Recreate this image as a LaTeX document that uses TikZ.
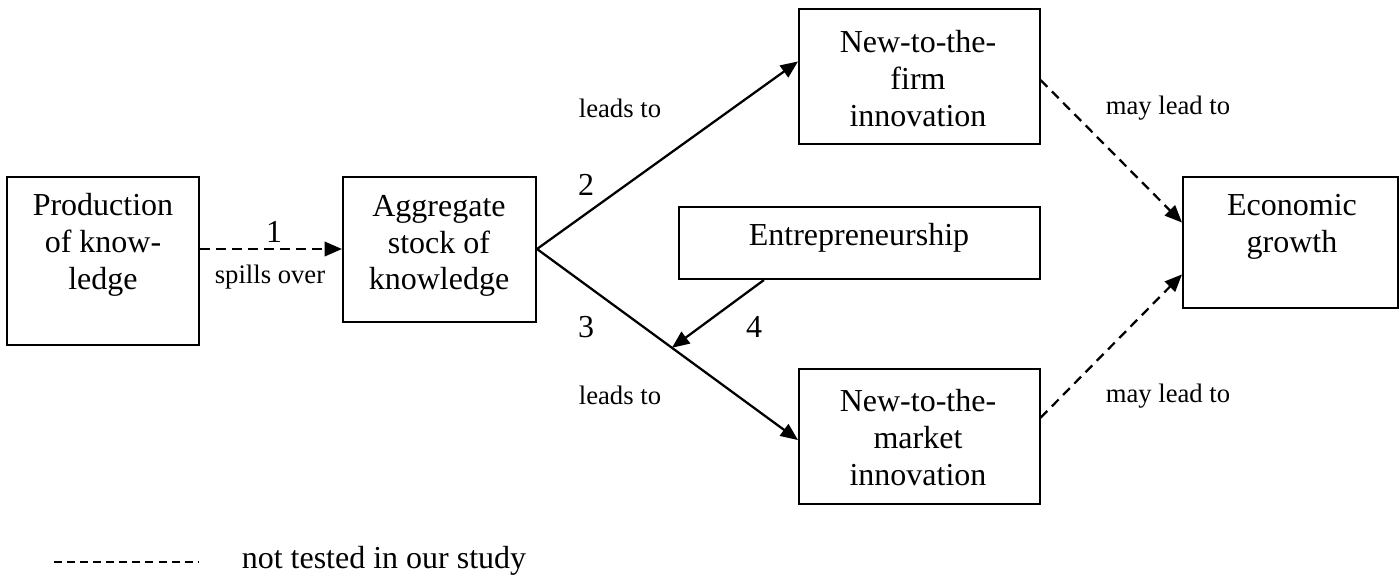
\documentclass[tikz,border=0pt]{standalone}
\usepackage{fontspec}
\setmainfont{Liberation Serif}
\usetikzlibrary{arrows.meta,calc,fit}
\begin{document}
\begin{tikzpicture}[x=0.375pt,y=-0.375pt,
  boxnode/.style={draw,line width=0.75pt,inner sep=0pt,fit={#1}},
  txt/.style={align=center,inner sep=0pt,font=\fontsize{12}{13.8}\selectfont},
  lbl/.style={inner sep=0pt,font=\fontsize{10}{12}\selectfont},
  num/.style={inner sep=0pt,font=\fontsize{12}{14}\selectfont},
  conn/.style={line width=0.85pt,-{Triangle[length=6.5pt,width=5.4pt]}},
  dconn/.style={conn,dash pattern=on 3.6pt off 2.4pt},
]
\useasboundingbox (0,0) rectangle (1399,583);
% boxes
\node[boxnode={(7,177) (199,345)}] (box1) {};
\node[boxnode={(343,177) (536,322)}] (box2) {};
\node[boxnode={(799,9) (1039.6,144)}] (ntf) {};
\node[boxnode={(679,207) (1039.6,279)}] (ent) {};
\node[boxnode={(799,369) (1039.6,504)}] (ntm) {};
\node[boxnode={(1183,177) (1398,308)}] (gro) {};
% box texts
\node[txt] (t1) at (103,245) {Production\\of know-\\ledge};
\node[txt] (t2) at (439,246) {Aggregate\\stock of\\knowledge};
\node[txt] (t3) at (918,78.5) {New-to-the-\\firm\\innovation};
\node[txt] (t4) at (859,238) {Entrepreneurship};
\node[txt] (t5) at (918,437.5) {New-to-the-\\market\\innovation};
\node[txt] (t6) at (1292,226.5) {Economic\\growth};
% connectors
\draw[dconn] (box1.east |- 0,249) -- (box2.west |- 0,249);
\coordinate (s23) at (box2.east |- 0,249);
\coordinate (e2) at ($(ntf.north west)!0.39!(ntf.south west)$);
\coordinate (e3) at ($(ntm.north west)!0.526!(ntm.south west)$);
\draw[conn] (s23) -- (e2);
\draw[conn] (s23) -- (e3);
\coordinate (s4) at ($(ent.south west)!0.237!(ent.south east)$);
\coordinate (m4) at ($(s23)!0.517!(e3)$);
\draw[conn] (s4) -- (m4);
\draw[dconn] ($(ntf.north east)!0.526!(ntf.south east)$) -- ($(gro.north west)!0.35!(gro.south west)$);
\draw[dconn] ($(ntm.north east)!0.363!(ntm.south east)$) -- ($(gro.north west)!0.74!(gro.south west)$);
% labels
\node[num] (n1) at (274,232) {1};
\node[lbl] (l1) at (270,277) {spills over};
\node[lbl] (l2) at (620,108) {leads to};
\node[lbl] (l3) at (620,395) {leads to};
\node[num] (n2) at (586,185) {2};
\node[num] (n3) at (586,327) {3};
\node[num] (n4) at (754,327) {4};
\node[lbl] (l4) at (1168,108) {may lead to};
\node[lbl] (l5) at (1168,396) {may lead to};
% legend
\coordinate (lg1) at (54,562);
\coordinate (lg2) at (199,562);
\draw[line width=0.7pt,dash pattern=on 3pt off 1.9pt] (lg1) -- (lg2);
\node[txt] (lgt) at (384,561) {not tested in our study};
\end{tikzpicture}
\end{document}
